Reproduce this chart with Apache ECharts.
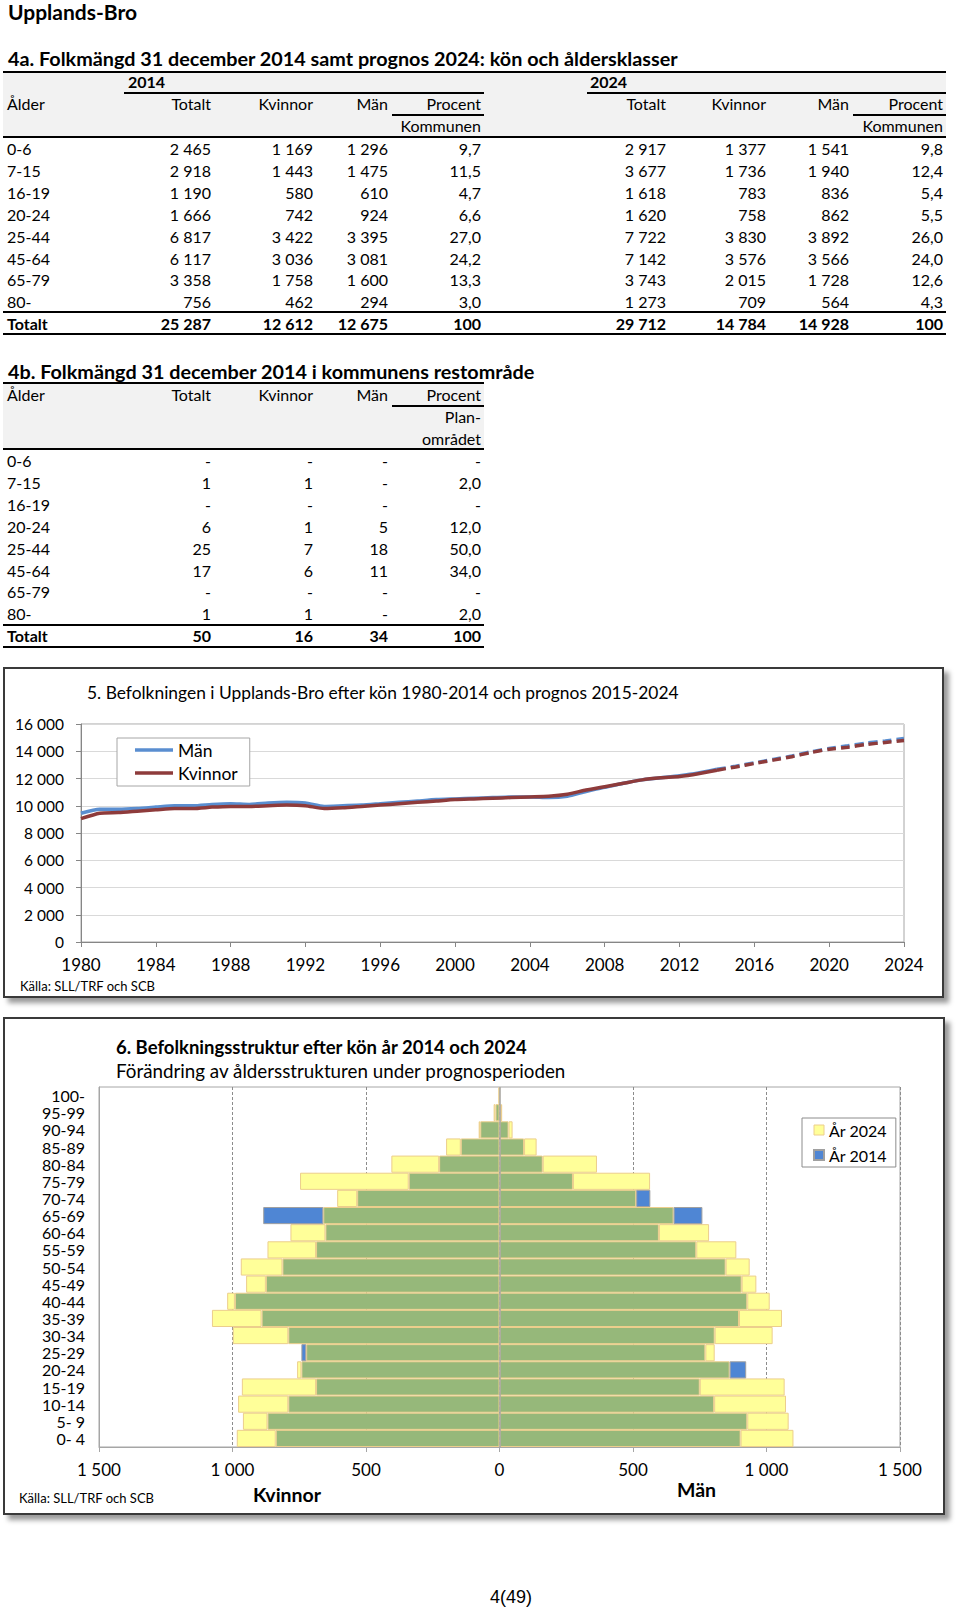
<!DOCTYPE html>
<html><head><meta charset="utf-8">
<script src="https://cdn.jsdelivr.net/npm/echarts@6/dist/echarts.min.js"></script>
<style>
html,body{margin:0;padding:0;background:#fff;}
#page{position:relative;width:960px;height:1609px;font-family:Lato,'Noto Sans',sans-serif;color:#000;overflow:hidden;}
.t{position:absolute;white-space:nowrap;height:22px;line-height:22px;font-size:16px;}
.ln{position:absolute;background:#000;}
.bg{position:absolute;background:#f2f2f2;}
.frame{position:absolute;box-sizing:border-box;border:2px solid #3a3a3a;box-shadow:5px 5px 5px #9a9a9a;background:#fff;}
.chart{position:absolute;left:0;width:960px;}
</style></head><body><div id="page">
<div class="frame" style="left:3px;top:667px;width:941px;height:331px;"></div>
<div class="frame" style="left:3px;top:1017px;width:942px;height:498px;"></div>
<div id="c5" class="chart" style="top:660px;height:340px;"></div>
<div id="c6" class="chart" style="top:1010px;height:520px;"></div>
</div>
<script>
// ---------- Table 4a data ----------
const ageGroups4a = ['0-6','7-15','16-19','20-24','25-44','45-64','65-79','80-'];
const totalt2014 = [2465, 2918, 1190, 1666, 6817, 6117, 3358, 756];
const kvinnor2014t = [1169, 1443, 580, 742, 3422, 3036, 1758, 462];
const man2014t = [1296, 1475, 610, 924, 3395, 3081, 1600, 294];
const procent2014 = [9.7, 11.5, 4.7, 6.6, 27.0, 24.2, 13.3, 3.0];
const totalt2024 = [2917, 3677, 1618, 1620, 7722, 7142, 3743, 1273];
const kvinnor2024t = [1377, 1736, 783, 758, 3830, 3576, 2015, 709];
const man2024t = [1541, 1940, 836, 862, 3892, 3566, 1728, 564];
const procent2024 = [9.8, 12.4, 5.4, 5.5, 26.0, 24.0, 12.6, 4.3];
const summa2014 = [25287, 12612, 12675, 100];
const summa2024 = [29712, 14784, 14928, 100];

// ---------- Table 4b data ----------
const rest_totalt = [null, 1, null, 6, 25, 17, null, 1];
const rest_kvinnor = [null, 1, null, 1, 7, 6, null, 1];
const rest_man = [null, null, null, 5, 18, 11, null, null];
const rest_procent = [null, 2.0, null, 12.0, 50.0, 34.0, null, 2.0];
const rest_summa = [50, 16, 34, 100];

// ---------- Chart 5 data ----------
const histYears = [1980,1981,1982,1983,1984,1985,1986,1987,1988,1989,1990,1991,1992,1993,1994,1995,1996,1997,1998,1999,2000,2001,2002,2003,2004,2005,2006,2007,2008,2009,2010,2011,2012,2013,2014];
const manHist = [9450,9750,9750,9800,9900,10000,10000,10100,10150,10100,10200,10250,10200,9950,10000,10050,10150,10250,10350,10450,10500,10550,10600,10650,10650,10600,10700,11050,11350,11650,11900,12050,12200,12400,12675];
const kvinnorHist = [9050,9450,9500,9600,9700,9800,9800,9900,9950,9950,10000,10050,10000,9800,9850,9950,10050,10150,10250,10350,10450,10500,10550,10600,10650,10700,10850,11150,11400,11650,11900,12050,12150,12350,12612];
const progYears = [2014,2015,2016,2017,2018,2019,2020,2021,2022,2023,2024];
const manProg = [12675,12900,13150,13400,13650,13950,14200,14400,14600,14750,14928];
const kvinnorProg = [12612,12850,13100,13350,13600,13900,14150,14300,14500,14650,14784];
const yTicks5 = [0,2000,4000,6000,8000,10000,12000,14000,16000];

// ---------- Chart 6 data ----------
const ages6 = ['0- 4','5- 9','10-14','15-19','20-24','25-29','30-34','35-39','40-44','45-49','50-54','55-59','60-64','65-69','70-74','75-79','80-84','85-89','90-94','95-99','100-'];
const kvinnor2014 = [838,869,791,687,742,742,791,891,991,875,813,687,652,885,533,340,226,145,72,15,4];
const kvinnor2024 = [984,961,979,965,758,724,999,1077,1020,949,969,869,783,660,608,747,405,200,78,22,4];
const man2014 = [903,928,804,750,924,771,806,897,928,907,847,737,597,760,565,275,162,92,34,5,1];
const man2024 = [1101,1083,1073,1068,862,806,1023,1058,1012,962,937,887,785,652,512,564,365,139,49,10,1];

// ---------- helpers ----------
const page = document.getElementById('page');
function fmt(n){ if(n==null) return '-'; return String(n).replace(/\B(?=(\d{3})+(?!\d))/g,'\u00a0'); }
function pct(p){ if(p==null) return '-'; return p.toFixed(1).replace('.',','); }
function T(txt,x,y,opt){ opt=opt||{}; const d=document.createElement('div'); d.className='t'; d.textContent=txt;
  d.style.top=(y-11)+'px';
  if(opt.align==='right'){ d.style.right=(960-x)+'px'; } else { d.style.left=x+'px'; }
  if(opt.bold) d.style.fontWeight='bold';
  if(opt.size) d.style.fontSize=opt.size+'px';
  if(opt.font) d.style.fontFamily=opt.font;
  page.appendChild(d); }
function L(x1,x2,y,h){ const d=document.createElement('div'); d.className='ln'; d.style.left=x1+'px'; d.style.width=(x2-x1)+'px'; d.style.top=y+'px'; d.style.height=(h||2)+'px'; page.appendChild(d); }
function BG(x1,x2,y1,y2){ const d=document.createElement('div'); d.className='bg'; d.style.left=x1+'px'; d.style.width=(x2-x1)+'px'; d.style.top=y1+'px'; d.style.height=(y2-y1)+'px'; page.appendChild(d); }

// ---------- Page title ----------
T('Upplands-Bro', 8, 12, {bold:true, size:21});

// ---------- Table 4a ----------
T('4a. Folkmängd 31 december 2014 samt prognos 2024: kön och åldersklasser', 8, 58, {bold:true, size:19.8});
BG(3, 946, 73, 136);
L(3, 946, 71, 2);
T('2014', 128, 82, {bold:true});
T('2024', 590, 82, {bold:true});
L(124, 484, 92, 2);
L(587, 946, 92, 2);
T('Ålder', 7, 104);
const colsL = [211, 313, 388, 481], colsR = [666, 766, 849, 943];
['Totalt','Kvinnor','Män','Procent'].forEach((h,i)=>{ T(h, colsL[i], 104, {align:'right'}); T(h, colsR[i], 104, {align:'right'}); });
L(392, 484, 114, 2); L(853, 946, 114, 2);
T('Kommunen', 481, 126, {align:'right'}); T('Kommunen', 943, 126, {align:'right'});
L(3, 946, 136, 2);
ageGroups4a.forEach((a,i)=>{
  const y = 149 + i*21.9;
  T(a, 7, y);
  T(fmt(totalt2014[i]), colsL[0], y, {align:'right'});
  T(fmt(kvinnor2014t[i]), colsL[1], y, {align:'right'});
  T(fmt(man2014t[i]), colsL[2], y, {align:'right'});
  T(pct(procent2014[i]), colsL[3], y, {align:'right'});
  T(fmt(totalt2024[i]), colsR[0], y, {align:'right'});
  T(fmt(kvinnor2024t[i]), colsR[1], y, {align:'right'});
  T(fmt(man2024t[i]), colsR[2], y, {align:'right'});
  T(pct(procent2024[i]), colsR[3], y, {align:'right'});
});
L(3, 946, 311, 2);
T('Totalt', 7, 324, {bold:true});
summa2014.forEach((v,i)=>T(fmt(v), colsL[i], 324, {align:'right', bold:true}));
summa2024.forEach((v,i)=>T(fmt(v), colsR[i], 324, {align:'right', bold:true}));
L(3, 946, 333, 2);

// ---------- Table 4b ----------
T('4b. Folkmängd 31 december 2014 i kommunens restområde', 8, 371, {bold:true, size:19.8});
BG(3, 484, 384, 448);
L(3, 484, 382, 2);
T('Ålder', 7, 395);
['Totalt','Kvinnor','Män','Procent'].forEach((h,i)=>T(h, colsL[i], 395, {align:'right'}));
L(392, 484, 405, 2);
T('Plan-', 481, 417, {align:'right'});
T('området', 481, 439, {align:'right'});
L(3, 484, 448, 2);
ageGroups4a.forEach((a,i)=>{
  const y = 461 + i*21.9;
  T(a, 7, y);
  T(fmt(rest_totalt[i]), colsL[0], y, {align:'right'});
  T(fmt(rest_kvinnor[i]), colsL[1], y, {align:'right'});
  T(fmt(rest_man[i]), colsL[2], y, {align:'right'});
  T(pct(rest_procent[i]), colsL[3], y, {align:'right'});
});
L(3, 484, 624, 2);
T('Totalt', 7, 636, {bold:true});
rest_summa.forEach((v,i)=>T(fmt(v), colsL[i], 636, {align:'right', bold:true}));
L(3, 484, 646, 2);

// page number
T('4(49)', 490, 1597, {size:18, font:"'Liberation Sans', Arial, sans-serif"});

// ---------- Chart 5 ----------
const FONT = 'Lato';
const spaceFmt = v => String(v).replace(/\B(?=(\d{3})+(?!\d))/g,' ');
const c5 = echarts.init(document.getElementById('c5'), null, {renderer:'svg'});
const blue = '#5a8ed0', red = '#8e3b3b';
c5.setOption({
  animation:false,
  textStyle:{fontFamily:FONT},
  grid:{left:81, top:64, width:823, height:218, show:true, borderColor:'#a6a6a6', borderWidth:1, containLabel:false},
  graphic:[
    {type:'text', left:87, top:24, style:{text:'5. Befolkningen i Upplands-Bro efter kön 1980-2014 och prognos 2015-2024', font:'17.4px Lato', fill:'#000'}},
    {type:'text', left:20, top:319, style:{text:'Källa: SLL/TRF och SCB', font:'13px Lato', fill:'#000'}}
  ],
  legend:{
    data:['Män','Kvinnor'], orient:'vertical', left:117, top:78, icon:'rect',
    itemWidth:38, itemHeight:3.5, itemGap:5,
    padding:[3,12,4,18], borderColor:'#a6a6a6', borderWidth:1, backgroundColor:'#fff',
    textStyle:{fontSize:17.5, fontFamily:FONT, color:'#000', lineHeight:18}
  },
  xAxis:{type:'value', min:1980, max:2024, interval:4,
    axisLine:{show:true, lineStyle:{color:'#868686'}},
    axisTick:{show:true, length:5, lineStyle:{color:'#868686'}},
    axisLabel:{fontSize:17, color:'#000', margin:14, formatter:v=>String(v)},
    splitLine:{show:false}},
  yAxis:{type:'value', min:yTicks5[0], max:yTicks5[yTicks5.length-1], interval:2000,
    axisLine:{show:true, lineStyle:{color:'#868686'}},
    axisTick:{show:true, length:5, lineStyle:{color:'#868686'}},
    axisLabel:{fontSize:15.5, color:'#000', margin:17, formatter:spaceFmt},
    splitLine:{show:true, lineStyle:{color:'#d9d9d9'}}},
  series:[
    {name:'Män', type:'line', symbol:'none', smooth:0.2, z:2, data:histYears.map((y,i)=>[y,manHist[i]]), lineStyle:{color:blue, width:3.5}, itemStyle:{color:blue}},
    {name:'Kvinnor', type:'line', symbol:'none', smooth:0.2, z:3, data:histYears.map((y,i)=>[y,kvinnorHist[i]]), lineStyle:{color:red, width:3.5}, itemStyle:{color:red}},
    {name:'Män prognos', type:'line', symbol:'none', smooth:0.2, z:2, data:progYears.map((y,i)=>[y,manProg[i]]), lineStyle:{color:blue, width:3.5, type:[9,5]}, itemStyle:{color:blue}},
    {name:'Kvinnor prognos', type:'line', symbol:'none', smooth:0.2, z:3, data:progYears.map((y,i)=>[y,kvinnorProg[i]]), lineStyle:{color:red, width:3.5, type:[9,5]}, itemStyle:{color:red}}
  ]
});

// ---------- Chart 6 ----------
const c6 = echarts.init(document.getElementById('c6'), null, {renderer:'svg'});
const green='#96b87a', yellow='#ffff99', yel_b='#ecce8c', blue6='#4f86d4';
const gW = ages6.map((_,i)=>-Math.min(kvinnor2014[i],kvinnor2024[i]));
const yW = ages6.map((_,i)=>kvinnor2024[i]>kvinnor2014[i] ? -(kvinnor2024[i]-kvinnor2014[i]) : null);
const bW = ages6.map((_,i)=>kvinnor2014[i]>kvinnor2024[i] ? -(kvinnor2014[i]-kvinnor2024[i]) : null);
const gM = ages6.map((_,i)=>Math.min(man2014[i],man2024[i]));
const yM = ages6.map((_,i)=>man2024[i]>man2014[i] ? (man2024[i]-man2014[i]) : null);
const bM = ages6.map((_,i)=>man2014[i]>man2024[i] ? (man2014[i]-man2024[i]) : null);
const barBase = {type:'bar', stack:'all', barCategoryGap:'0%', barGap:'0%'};
c6.setOption({
  animation:false,
  textStyle:{fontFamily:FONT},
  grid:{left:99, top:77, width:801, height:360, show:true, borderColor:'#a6a6a6', borderWidth:1},
  graphic:[
    {type:'text', left:116, top:27, style:{text:'6. Befolkningsstruktur efter kön år 2014 och 2024', font:'bold 18.5px Lato', fill:'#000'}},
    {type:'text', left:116, top:51, style:{text:'Förändring av åldersstrukturen under prognosperioden', font:'18.8px Lato', fill:'#000'}},
    {type:'text', left:253, top:474, style:{text:'Kvinnor', font:'bold 19.5px Lato', fill:'#000'}},
    {type:'text', left:677, top:469, style:{text:'Män', font:'bold 19.5px Lato', fill:'#000'}},
    {type:'text', left:19, top:481, style:{text:'Källa: SLL/TRF och SCB', font:'13px Lato', fill:'#000'}}
  ],
  legend:{
    data:[{name:'År 2024', itemStyle:{color:yellow, borderColor:yel_b, borderWidth:1}}, {name:'År 2014', itemStyle:{color:blue6}}],
    orient:'vertical', left:802, top:108, icon:'rect', itemWidth:10, itemHeight:10, itemGap:9,
    padding:[4,9,4,11], borderColor:'#8c8c8c', borderWidth:1, backgroundColor:'#fff',
    textStyle:{fontSize:16, fontFamily:FONT, color:'#000'}
  },
  xAxis:{type:'value', min:-1500, max:1500, interval:500,
    axisLine:{show:true, onZero:false, lineStyle:{color:'#a6a6a6'}},
    axisTick:{show:true, length:5, lineStyle:{color:'#a6a6a6'}},
    axisLabel:{fontSize:17, color:'#000', margin:14, formatter:v=>spaceFmt(Math.abs(v))},
    splitLine:{show:true, lineStyle:{color:'#8c8c8c', type:[3,2], width:1}}},
  yAxis:{type:'category', data:ages6,
    axisLine:{show:true, onZero:false, lineStyle:{color:'#a6a6a6'}},
    axisTick:{show:false},
    axisLabel:{fontSize:16, lineHeight:16, color:'#000', margin:14, interval:0}},
  series:[
    Object.assign({}, barBase, {name:'Gemensamt kvinnor', data:gW, itemStyle:{color:green, borderColor:yel_b, borderWidth:1}}),
    Object.assign({}, barBase, {name:'År 2024', data:yW, itemStyle:{color:yellow, borderColor:yel_b, borderWidth:1}}),
    Object.assign({}, barBase, {name:'År 2014', data:bW, itemStyle:{color:blue6, borderColor:'#a0a0a0', borderWidth:1}}),
    Object.assign({}, barBase, {name:'Gemensamt män', data:gM, itemStyle:{color:green, borderColor:yel_b, borderWidth:1},
      markLine:{silent:true, symbol:'none', label:{show:false}, lineStyle:{color:'#a6a6a6', type:'solid', width:1.5}, data:[{xAxis:0}]}}),
    Object.assign({}, barBase, {name:'År 2024', data:yM, itemStyle:{color:yellow, borderColor:yel_b, borderWidth:1}}),
    Object.assign({}, barBase, {name:'År 2014', data:bM, itemStyle:{color:blue6, borderColor:'#a0a0a0', borderWidth:1}})
  ]
});
</script>
</body></html>
